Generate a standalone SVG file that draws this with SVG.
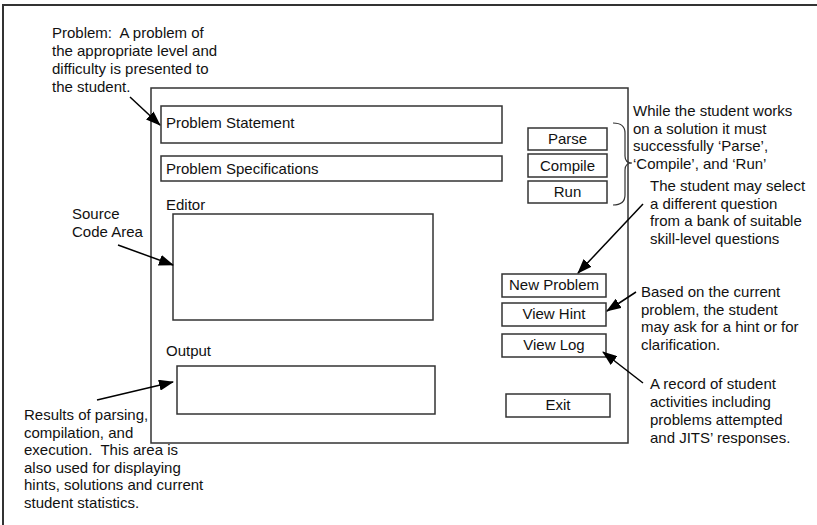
<svg xmlns="http://www.w3.org/2000/svg" width="817" height="525" viewBox="0 0 817 525">
<defs>
<style>
.t{font-family:"Liberation Sans",Arial,sans-serif;font-size:15px;fill:#111}
.c{text-anchor:middle}
.box{fill:#fff;stroke:#333;stroke-width:1.5}
.win{fill:#fff;stroke:#333;stroke-width:1.5}
.ar{stroke:#000;stroke-width:1.5;fill:none;marker-end:url(#ah)}
</style>
<marker id="ah" markerWidth="15" markerHeight="11" refX="14" refY="5.5" orient="auto" markerUnits="userSpaceOnUse">
<path d="M0,0 L15,5.5 L0,11 Z" fill="#000"/>
</marker>
</defs>
<rect width="817" height="525" fill="#fff"/>
<path d="M3,525 V5 H817" fill="none" stroke="#333" stroke-width="2"/>

<g id="window"><rect class="win" x="151" y="88" width="477" height="355"/></g>
<g id="problem-statement"><rect class="box" x="161" y="106" width="341" height="37"/><text class="t" x="166" y="128">Problem Statement</text></g>
<g id="problem-specifications"><rect class="box" x="161" y="156" width="341" height="25"/><text class="t" x="166" y="174">Problem Specifications</text></g>
<g id="parse"><rect class="box" x="528" y="128" width="79" height="22"/><text class="t c" x="567.5" y="144">Parse</text></g>
<g id="compile"><rect class="box" x="528" y="154" width="79" height="23"/><text class="t c" x="567.5" y="171">Compile</text></g>
<g id="run"><rect class="box" x="528" y="181" width="79" height="22"/><text class="t c" x="567.5" y="197">Run</text></g>
<g id="editor"><text class="t" x="166" y="210">Editor</text><rect class="box" x="173" y="214" width="260" height="106"/></g>
<g id="output"><text class="t" x="166" y="356">Output</text><rect class="box" x="177" y="366" width="258" height="48"/></g>
<g id="new-problem"><rect class="box" x="502" y="274" width="104" height="23"/><text class="t c" x="554" y="290">New Problem</text></g>
<g id="view-hint"><rect class="box" x="502" y="303" width="104" height="23"/><text class="t c" x="554" y="319">View Hint</text></g>
<g id="view-log"><rect class="box" x="502" y="334" width="104" height="23"/><text class="t c" x="554" y="350">View Log</text></g>
<g id="exit"><rect class="box" x="506" y="394" width="104" height="23"/><text class="t c" x="558" y="410">Exit</text></g>

<g id="note-problem"><text class="t"><tspan x="52" y="38">Problem:&#160; A problem of</tspan><tspan x="52" y="56">the appropriate level and</tspan><tspan x="52" y="74">difficulty is presented to</tspan><tspan x="52" y="92">the student.</tspan></text></g>
<g id="note-source"><text class="t"><tspan x="72" y="219">Source</tspan><tspan x="72" y="237">Code Area</tspan></text></g>
<g id="note-results"><text class="t"><tspan x="24" y="420">Results of parsing,</tspan><tspan x="24" y="437.5">compilation, and</tspan><tspan x="24" y="455">execution.&#160; This area is</tspan><tspan x="24" y="472.5">also used for displaying</tspan><tspan x="24" y="490">hints, solutions and current</tspan><tspan x="24" y="507.5">student statistics.</tspan></text></g>
<g id="note-while"><text class="t"><tspan x="633" y="116">While the student works</tspan><tspan x="633" y="133.5">on a solution it must</tspan><tspan x="633" y="151">successfully ‘Parse’,</tspan><tspan x="633" y="168.5">‘Compile’, and ‘Run’</tspan></text></g>
<g id="note-select"><text class="t"><tspan x="650" y="191">The student may select</tspan><tspan x="650" y="208.5">a different question</tspan><tspan x="650" y="226">from a bank of suitable</tspan><tspan x="650" y="243.5">skill-level questions</tspan></text></g>
<g id="note-hint"><text class="t"><tspan x="641" y="297">Based on the current</tspan><tspan x="641" y="314.5">problem, the student</tspan><tspan x="641" y="332">may ask for a hint or for</tspan><tspan x="641" y="349.5">clarification.</tspan></text></g>
<g id="note-log"><text class="t"><tspan x="650" y="389">A record of student</tspan><tspan x="650" y="407">activities including</tspan><tspan x="650" y="425">problems attempted</tspan><tspan x="650" y="443">and JITS’ responses.</tspan></text></g>

<g id="connectors">
<path class="ar" d="M130,97 L160,125"/>
<path class="ar" d="M118,245 L173,265"/>
<path class="ar" d="M97,400 L173,382"/>
<path class="ar" d="M643,204 L578,273"/>
<path class="ar" d="M636,292 L607,311"/>
<path class="ar" d="M643,383 L603,352"/>
<path d="M613,123 Q625,123 625,133 L625,156 Q625,163 632,163 Q625,163 625,170 L625,195 Q625,205 613,205" fill="none" stroke="#333" stroke-width="1.2"/>
</g>
</svg>
